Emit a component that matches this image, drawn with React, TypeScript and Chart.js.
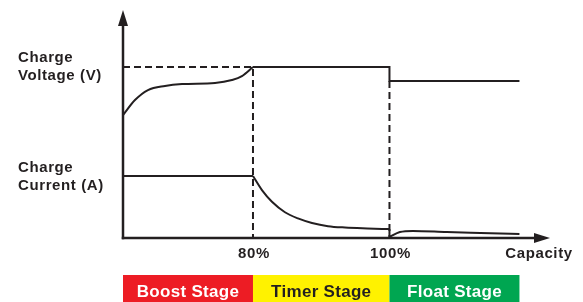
import React, { useEffect, useRef } from 'react';
import { Chart, registerables } from 'chart.js';

Chart.register(...registerables);

// ---- scale extents (abstract charging-time units / schematic level units)
const X_MAX = 32.85;
const Y_MAX = 100;

// ---- voltage curve
const voltageBoostX = [0, 0.92, 1.92, 3.23, 4.54, 7.08, 8.38, 9.15, 10];
const voltageBoostY = [53.9, 60.5, 64.9, 66.7, 67.5, 68.0, 69.3, 71.0, 75.0];
const voltageHoldX = [10, 20.5, 20.5, 30.5];
const voltageHoldY = [75, 75, 68.9, 68.9];

// ---- current curve
const currentBoostX = [0, 10];
const currentBoostY = [27.2, 27.2];
const currentTimerX = [10, 10.69, 11.46, 12.46, 13.46, 14.54, 15.77, 17.08, 18.8, 20.5];
const currentTimerY = [27.2, 21.0, 15.9, 11.3, 8.6, 6.6, 5.2, 4.6, 4.2, 3.9];
const currentDropX = [20.5, 20.5];
const currentDropY = [3.9, 0.4];
const currentFloatX = [20.5, 21.3, 22.3, 24.9, 27.5, 30.5];
const currentFloatY = [0.4, 2.6, 3.1, 2.6, 2.2, 1.75];

// ---- dashed guides
const guide80X = [0, 10, 10];
const guide80Y = [75, 75, 0];
const guide100X = [20.5, 20.5];
const guide100Y = [68.9, 0];

// ---- axis labels / ticks
const xTickValues = [10, 20.5];
const xTickLabels = ['80%', '100%'];
const xAxisTitle = 'Capacity';
const yMarkValues = [75.5, 55.3, 27.4];
const voltageLabel = ['Charge', 'Voltage (V)'];
const currentLabel = ['Charge', 'Current (A)'];

// ---- stages
const stageNames = ['Boost Stage', 'Timer Stage', 'Float Stage'];
const stageBounds = [0, 10, 20.5, 30.5];
const stageColors = ['#ED1C24', '#FFF200', '#00A651'];
const stageTextColors = ['#ffffff', '#231F20', '#ffffff'];

const INK = '#231F20';
const FONT = '"Liberation Sans", Arial, sans-serif';

const pts = (xs: number[], ys: number[]) => xs.map((x, i) => ({ x, y: ys[i] }));

const overlayPlugin = {
  id: 'overlay',
  afterDatasetsDraw(chart: any) {
    const { ctx, scales } = chart;
    const x = scales.x;
    const y = scales.y;
    const x0 = x.getPixelForValue(0);
    const y0 = y.getPixelForValue(0);
    const xEnd = x.getPixelForValue(X_MAX);
    const yEnd = y.getPixelForValue(Y_MAX);
    ctx.save();
    ctx.strokeStyle = INK;
    ctx.fillStyle = INK;
    ctx.lineWidth = 2.5;
    ctx.lineCap = 'square';
    ctx.setLineDash([]);
    // y axis
    ctx.beginPath();
    ctx.moveTo(x0, y0);
    ctx.lineTo(x0, yEnd + 12);
    ctx.stroke();
    ctx.beginPath();
    ctx.moveTo(x0, yEnd);
    ctx.lineTo(x0 - 5, yEnd + 16);
    ctx.lineTo(x0 + 5, yEnd + 16);
    ctx.closePath();
    ctx.fill();
    // x axis
    ctx.beginPath();
    ctx.moveTo(x0, y0);
    ctx.lineTo(xEnd - 12, y0);
    ctx.stroke();
    ctx.beginPath();
    ctx.moveTo(xEnd, y0);
    ctx.lineTo(xEnd - 16, y0 - 5);
    ctx.lineTo(xEnd - 16, y0 + 5);
    ctx.closePath();
    ctx.fill();
    // small y marks
    ctx.lineWidth = 1;
    ctx.lineCap = 'butt';
    yMarkValues.forEach((v) => {
      const py = Math.round(y.getPixelForValue(v)) + 0.5;
      ctx.beginPath();
      ctx.moveTo(x0, py);
      ctx.lineTo(x0 + 3, py);
      ctx.stroke();
    });

    // text
    ctx.font = `bold 15px ${FONT}`;
    (ctx as any).letterSpacing = '0.6px';
    ctx.textBaseline = 'alphabetic';
    ctx.textAlign = 'left';
    const vy = y.getPixelForValue(75);
    ctx.fillText(voltageLabel[0], 18, vy - 5);
    ctx.fillText(voltageLabel[1], 18, vy + 13);
    const cy = y.getPixelForValue(27.2);
    ctx.fillText(currentLabel[0], 18, cy - 4);
    ctx.fillText(currentLabel[1], 18, cy + 14);

    ctx.textAlign = 'center';
    xTickValues.forEach((v, i) => {
      ctx.fillText(xTickLabels[i], x.getPixelForValue(v) + 1, y0 + 20);
    });
    ctx.fillText(xAxisTitle, xEnd - 11, y0 + 20);

    // stage bar
    const barTop = y0 + 37;
    const barBottom = chart.height;
    ctx.font = `bold 17px ${FONT}`;
    (ctx as any).letterSpacing = '0.3px';
    stageNames.forEach((name, i) => {
      const l = x.getPixelForValue(stageBounds[i]);
      const r = x.getPixelForValue(stageBounds[i + 1]);
      ctx.fillStyle = stageColors[i];
      ctx.fillRect(l, barTop, r - l, barBottom - barTop);
      ctx.fillStyle = stageTextColors[i];
      ctx.fillText(name, (l + r) / 2, barBottom - 5);
    });
    ctx.restore();
  },
};

export default function App() {
  const canvasRef = useRef<HTMLCanvasElement | null>(null);

  useEffect(() => {
    if (!canvasRef.current) return;
    const solid = (data: { x: number; y: number }[], smooth: boolean) => ({
      data,
      showLine: true,
      borderColor: INK,
      borderWidth: 2,
      pointRadius: 0,
      fill: false,
      clip: false as any,
      tension: smooth ? 0.4 : 0,
      cubicInterpolationMode: smooth ? ('monotone' as const) : ('default' as const),
    });
    const dashed = (data: { x: number; y: number }[]) => ({
      data,
      showLine: true,
      borderColor: INK,
      borderWidth: 2,
      borderDash: [7, 4],
      pointRadius: 0,
      fill: false,
      clip: false as any,
      tension: 0,
    });
    const chart = new Chart(canvasRef.current, {
      type: 'scatter',
      data: {
        datasets: [
          dashed(pts(guide80X, guide80Y)),
          dashed(pts(guide100X, guide100Y)),
          solid(pts(voltageBoostX, voltageBoostY), true),
          solid(pts(voltageHoldX, voltageHoldY), false),
          solid(pts(currentBoostX, currentBoostY), false),
          solid(pts(currentTimerX, currentTimerY), true),
          solid(pts(currentDropX, currentDropY), false),
          solid(pts(currentFloatX, currentFloatY), true),
        ] as any,
      },
      options: {
        animation: false,
        responsive: true,
        maintainAspectRatio: false,
        layout: { padding: { left: 123, right: 33, top: 10, bottom: 64 } },
        plugins: { legend: { display: false }, tooltip: { enabled: false } },
        events: [],
        scales: {
          x: { type: 'linear', min: 0, max: X_MAX, display: false },
          y: { type: 'linear', min: 0, max: Y_MAX, display: false },
        },
      },
      plugins: [overlayPlugin],
    });
    return () => chart.destroy();
  }, []);

  return (
    <div style={{ position: 'fixed', left: 0, top: 0, width: 583, height: 302, background: '#fff' }}>
      <canvas ref={canvasRef} />
    </div>
  );
}
